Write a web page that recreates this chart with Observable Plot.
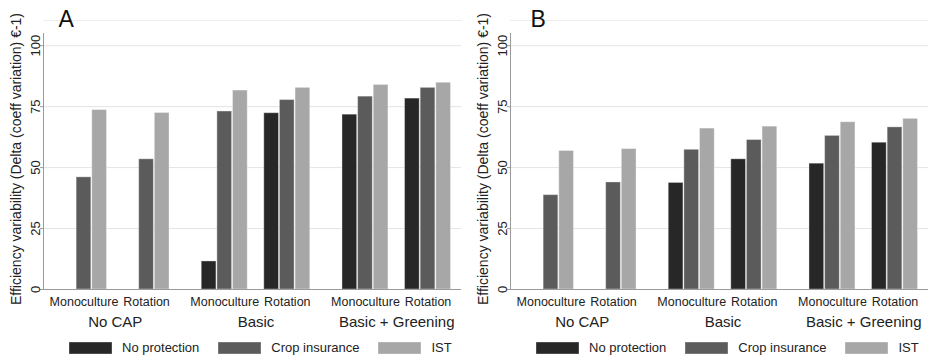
<!DOCTYPE html>
<html><head><meta charset="utf-8">
<script src="https://cdn.jsdelivr.net/npm/d3@7"></script>
<script src="https://cdn.jsdelivr.net/npm/@observablehq/plot@0.6"></script>
<style>
body{margin:0;background:#fff;font-family:"Liberation Sans",Arial,sans-serif;}
#wrap{position:relative;width:928px;height:357px;overflow:hidden;background:#fff;}
.panel{position:absolute;top:0;}
.legendBox{position:absolute;top:340px;width:400px;}
.legendBox .lg-swatches{font-family:"Liberation Sans",Arial,sans-serif;font-size:13px;color:#222;margin:0;}
.legendBox .lg-swatches-wrap{min-height:0;flex-wrap:nowrap;white-space:nowrap;}
.legendBox .lg-swatches-wrap .lg-swatch{margin-right:19px;}
.legendBox .lg-swatch>svg{margin-right:10px;}
.legendBox .lg-swatch rect{stroke:rgba(255,255,255,0.35);stroke-width:1px;}
</style></head><body><div id="wrap"></div>
<script>
const panels = ["A", "B"];
const policies = ["No CAP", "Basic", "Basic + Greening"];
const systems = ["Monoculture", "Rotation"];
const series = ["No protection", "Crop insurance", "IST"];
const yTicks = [0, 25, 50, 75, 100];
const yLabel = "Efficiency variability (Delta (coeff variation) €-1)";

// order: NoCAP-Mono, NoCAP-Rot, Basic-Mono, Basic-Rot, B+G-Mono, B+G-Rot
const aNoProtection  = [null, null, 11.5, 72.3, 71.7, 78.3];
const aCropInsurance = [46.0, 53.4, 73.0, 77.7, 79.1, 82.7];
const aIST           = [73.6, 72.4, 81.6, 82.7, 83.9, 84.8];
const bNoProtection  = [null, null, 43.7, 53.4, 51.6, 60.2];
const bCropInsurance = [38.7, 43.9, 57.3, 61.3, 63.0, 66.5];
const bIST           = [56.8, 57.6, 66.0, 66.8, 68.6, 70.0];

const colors = ["#272727", "#5b5b5b", "#a7a7a7"];
const valuesByPanel = {A: [aNoProtection, aCropInsurance, aIST], B: [bNoProtection, bCropInsurance, bIST]};

const key = (p, s, k) => `${p}|${s}|${k}`;
const xDomain = [];
policies.forEach((p, i) => {
  if (i > 0) xDomain.push(`${p}|sep1`, `${p}|sep2`);
  systems.forEach((s, j) => {
    if (j > 0) xDomain.push(`${p}|gap`);
    series.forEach(k => xDomain.push(key(p, s, k)));
  });
});

const subLabels = [];
const groupLabels = [];
policies.forEach(p => {
  groupLabels.push({x: `${p}|gap`, text: p});
  systems.forEach(s => subLabels.push({x: key(p, s, series[1]), text: s}));
});

const wrap = document.getElementById("wrap");
const layout = {A: {left: 0, width: 464, mr: 3, dx: 15}, B: {left: 467, width: 461, mr: 0, dx: 20}};

panels.forEach(panel => {
  const vals = valuesByPanel[panel];
  const rows = [];
  policies.forEach((p, pi) => systems.forEach((s, si) => series.forEach((k, ki) => {
    const v = vals[ki][pi * 2 + si];
    if (v != null) rows.push({x: key(p, s, k), value: v, series: k});
  })));
  const L = layout[panel];
  const chart = Plot.plot({
    width: L.width, height: 333,
    marginTop: 33, marginBottom: 44, marginLeft: 43, marginRight: L.mr,
    style: {fontFamily: "'Liberation Sans', Arial, sans-serif", fontSize: "12px", color: "#222", background: "transparent"},
    x: {domain: xDomain, axis: null, round: false, paddingInner: 0.06, paddingOuter: 0, insetLeft: 17.5, insetRight: 10.5},
    y: {domain: [0, 105], axis: null},
    color: {domain: series, range: colors},
    marks: [
      Plot.frame({anchor: "top", dy: -13, stroke: "#ededed"}),
      Plot.gridY([25, 50, 75, 100], {stroke: "#e4e4e4", strokeOpacity: 1}),
      Plot.barY(rows, {x: "x", y: "value", fill: "series", stroke: "#fff", strokeOpacity: 0.35, strokeWidth: 1}),
      Plot.ruleY([0], {stroke: "#9a9a9a"}),
      Plot.frame({anchor: "left", stroke: "#9a9a9a"}),
      Plot.axisY({ticks: yTicks, tickSize: 3, tickRotate: -90, tickPadding: 1, stroke: "#9a9a9a", fill: "#222",
        fontSize: 13, label: null}),
      Plot.text([yLabel], {text: d => d, frameAnchor: "left", rotate: -90, lineAnchor: "top", textAnchor: "middle",
        dx: -32, dy: -2.5, fontSize: 14, fill: "#222"}),
      Plot.text(subLabels, {x: "x", text: "text", frameAnchor: "bottom", lineAnchor: "bottom", dy: 16, fontSize: 12.5, fill: "#222"}),
      Plot.text(groupLabels, {x: "x", text: "text", frameAnchor: "bottom", lineAnchor: "bottom", dy: 37, fontSize: 15, fill: "#222"}),
      Plot.text([panel], {text: d => d, frameAnchor: "top-left", textAnchor: "start", lineAnchor: "bottom", dx: L.dx, dy: -6.5, fontSize: 23, fill: "#111"})
    ]
  });
  const div = document.createElement("div");
  div.className = "panel";
  div.style.left = L.left + "px";
  div.appendChild(chart);
  wrap.appendChild(div);

  const lg = Plot.legend({color: {domain: series, range: colors}, legend: "swatches", swatchWidth: 43, swatchHeight: 12, className: "lg"});
  const lbox = document.createElement("div");
  lbox.className = "legendBox";
  lbox.style.left = (L.left + 69) + "px";
  lbox.appendChild(lg);
  wrap.appendChild(lbox);
});
</script></body></html>
